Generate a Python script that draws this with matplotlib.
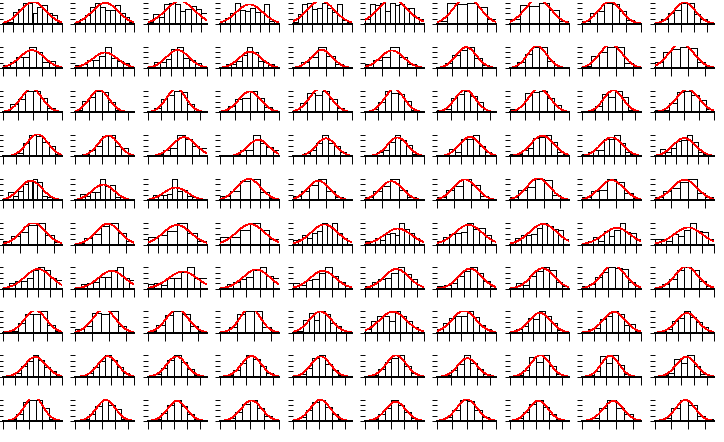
import numpy as np
import matplotlib
matplotlib.use('Agg')
import matplotlib.pyplot as plt
from matplotlib.ticker import MaxNLocator

# relative bar heights of every histogram, one list per row of the grid
row0 = [
    [1, 1, 5.5, 7, 10, 10, 5, 8, 9, 5, 4, 1],
    [1, 2.5, 4, 8, 10, 8, 6.5, 6.5, 9, 5, 3.5, 1],
    [1, 4.5, 3.5, 9.5, 10, 9.5, 6, 7, 8.5, 7, 5],
    [0.7, 3, 5, 10, 6.5, 6, 7.5, 5.5, 5.5, 9.5, 1.5, 0.7],
    [1, 4.5, 9.5, 10, 7, 7.5, 10, 7.5, 5.5, 9.5, 2, 1],
    [2.5, 9.5, 9, 10, 6, 10, 9, 9.5, 7.5, 7.5, 3.5, 2.5],
    [1.5, 10, 9.5, 10, 8, 2.5],
    [2.5, 9, 8.5, 10, 6.5, 1.5],
    [1.3, 5, 6, 10, 9.5, 6, 2, 0.5],
    [0.5, 2.5, 5, 6.5, 10, 10, 4.5, 2.5, 0.5],
]
row1 = [
    [1.3, 3, 5.2, 5, 10, 7.6, 3, 3.3, 0.7],
    [1.5, 2, 3.7, 4, 5.7, 10, 4.8, 3.3, 2.5, 0.7],
    [0.5, 2.8, 2.8, 4.2, 9, 10, 4.8, 3.7, 2.2, 0.7],
    [0.5, 2, 2, 3.4, 6, 10, 7.5, 3.3, 2.8, 2, 0.5],
    [0.5, 2.8, 5, 10, 5.5, 2, 0.7],
    [2, 4, 5, 10, 5, 2, 0.5],
    [0.5, 2.2, 6, 8.5, 10, 4.5, 1.5, 0.5],
    [0.5, 2.8, 6.4, 9.7, 10, 3.3, 0.7, 0.5],
    [1, 5.5, 7.5, 10, 10, 2.5, 1],
    [2.8, 7.5, 9, 10, 9.4, 2.8, 1],
]
row2 = [
    [0.3, 4, 6.3, 10, 10, 6.6, 1.8, 0.3],
    [1, 5.2, 7, 10, 9.5, 4.8, 1, 0.3, 0.3],
    [0.3, 1.8, 6.3, 8.2, 10, 9.5, 4, 0.6, 0.3],
    [0.6, 3, 6.3, 6.6, 10, 6.6, 2.5, 0.3],
    [0.6, 4.3, 9, 8, 10, 6.3, 1.8, 0.3],
    [0.3, 1.3, 4.8, 10, 9, 8.5, 5.2, 1, 0.3],
    [1, 1.5, 6.6, 8.5, 10, 7.5, 4.8, 0.3, 0.3],
    [1.3, 0.7, 9, 9.4, 10, 6.6, 3.3, 0.3],
    [0.3, 1, 3, 8.5, 7, 10, 7, 1, 0.3],
    [1, 1, 4.5, 9.5, 10, 8, 5.8, 1.5],
]
row3 = [
    [0.5, 0.5, 1.5, 6, 10, 9.6, 6.7, 5, 1.3],
    [0.1, 1, 2.8, 5, 9.4, 10, 5, 4, 0.5],
    [0.5, 1, 3, 4, 10, 8.2, 5, 4],
    [0.1, 0.3, 1, 3.1, 3.1, 10, 6, 4.5, 2.8],
    [0.1, 0.7, 1.5, 2.8, 6, 10, 6.4, 5, 2.2, 0.5],
    [0.5, 0.5, 2.2, 3, 6.7, 10, 7.5, 5.2, 1.2, 0.5],
    [0.5, 0.7, 3.3, 2, 8.2, 8.2, 10, 5, 1.8, 0.7],
    [1, 1.3, 3.1, 3.7, 8.5, 9, 10, 6.7, 2.2, 1.3],
    [1, 2, 3.1, 3.1, 8.2, 8.2, 10, 6.3, 2, 1, 0.7],
    [0.5, 3.3, 2.2, 3.7, 7, 7.5, 10, 6.7, 2, 1.3, 0.5],
]
row4 = [
    [1.2, 3.9, 1.9, 4.4, 7.6, 9.6, 10, 8.8, 2.2, 1.8, 1, 0.7],
    [0.7, 2.9, 2.2, 3.7, 3.7, 10, 6.8, 7.4, 1.6, 1.5, 0.7, 0.4],
    [0.7, 2.6, 2.6, 2.6, 2.9, 10, 4.4, 5.1, 2.2, 1.8, 0.7, 0.7],
    [2.2, 4.4, 9, 10, 3.7, 1.3],
    [2.2, 4.4, 7.4, 10, 4.4, 1.6, 0.4],
    [1.8, 4.4, 6.6, 10, 4.7, 1.8, 0.4],
    [1.8, 4.9, 6.6, 10, 7.4, 2.2, 0.7],
    [1.8, 4.9, 6.2, 10, 9.6, 2.6, 0.7],
    [1.8, 4.4, 5.1, 10, 8.4, 3.4, 1.2],
    [1.8, 4.4, 5.9, 8.8, 10, 3.4, 1.8],
]
row5 = [
    [1.5, 4.1, 5.9, 9.3, 10, 4.4, 1.2],
    [0.9, 3.2, 4.9, 8.5, 10, 5.3, 1.8],
    [3.7, 4.4, 6.3, 10, 5.6, 1.8],
    [3.7, 3.7, 7, 10, 6.7, 2.4],
    [1.9, 2.6, 4.4, 3.2, 5.6, 6.2, 10, 8.8, 10, 5.6, 2.9, 1.8],
    [1.8, 1.8, 3.2, 1.9, 4.9, 5.3, 4.4, 10, 7.4, 5.6, 3.2, 1.8],
    [1.8, 3.7, 4.9, 5.3, 5.9, 10, 7.4, 7.6, 4.4, 1.8],
    [1.2, 3.2, 4.4, 4.4, 4.9, 7.6, 10, 8.8, 7.4, 6.7, 2.6],
    [0.9, 1.8, 3.7, 1.5, 6.3, 4.1, 6.7, 10, 5.9, 5.3, 2.4],
    [2.4, 2.4, 1.8, 4.9, 4.1, 7, 10, 6.3, 5.9, 2.4],
]
row6 = [
    [0.7, 2.5, 3.4, 3.4, 4.9, 8.5, 10, 8.5, 4.9, 4],
    [0.4, 2.2, 2.7, 3, 5.2, 5.2, 8.5, 10, 4.8, 4],
    [2.2, 2.5, 1.8, 4.8, 4.8, 7.9, 10, 4.8, 4.8],
    [0.7, 2.2, 3, 4.5, 5.2, 8.5, 10, 6, 4.8],
    [2.5, 1.8, 4, 4.5, 7.5, 10, 6, 3, 0.4],
    [1, 3, 4.5, 4.9, 7.5, 10, 7, 4.5, 0.4],
    [1, 1.5, 2.5, 5.7, 8.2, 10, 7.5, 3.4, 1.2],
    [0.7, 2.5, 1.8, 5.7, 8.2, 10, 8.5, 3, 1.2],
    [1, 2.2, 5.2, 7.9, 10, 9.7, 9, 3, 1],
    [0.7, 2.2, 4.5, 8.5, 10, 8.5, 3.4, 1.2],
]
row7 = [
    [0.9, 0.9, 4.4, 8.8, 8.8, 10, 3.4, 0.9],
    [1.8, 3.2, 9.3, 8.8, 10, 3.2, 0.4],
    [0.9, 3.5, 8.5, 10, 8.8, 3.2, 0.9],
    [0.4, 2.6, 8.8, 10, 10, 2.6, 0.7],
    [0.9, 0.9, 5.9, 9.3, 5.9, 10, 8.8, 4.4, 3.2, 1.2, 0.4],
    [1.8, 5.3, 7.8, 7.8, 5.3, 10, 7.8, 5.6, 2.6, 1.2],
    [1.8, 4.4, 7, 8, 8, 10, 7.2, 3.5, 1.5, 0.4],
    [0.7, 1.5, 3.2, 6.8, 6.3, 10, 7.8, 4.4, 1.2, 0.4],
    [0.4, 1.5, 2.4, 6.3, 7.8, 10, 8.8, 3.7, 4.1, 0.7],
    [0.4, 0.7, 1.9, 5.3, 7, 10, 7.4, 4.9, 2.6, 0.7],
]
row8 = [
    [0.6, 0.6, 2, 5, 7.3, 10, 8, 4.5, 2.8, 0.6],
    [0.1, 0.6, 2, 4.8, 7.5, 10, 7.8, 4.8, 2, 0.6],
    [0.5, 1.5, 4, 8, 10, 7, 3.5, 1, 0.3],
    [0.3, 1, 3, 6.5, 10, 8.5, 5, 2, 0.5],
    [0.5, 1.5, 4, 9, 10, 6, 3, 1, 0.3],
    [0.3, 1, 3.5, 7, 9, 10, 5, 2, 0.5],
    [0.3, 1, 3, 6, 10, 6.5, 3.5, 1.2, 0.3],
    [0.3, 1, 3, 9.5, 7, 10, 5, 1.5, 0.3],
    [0.3, 1, 2.5, 9.7, 6.6, 10, 5.5, 1.5, 0.3, 0.1],
    [0.2, 1, 2, 8.5, 6.6, 10, 5.1, 1.3, 1],
]
row9 = [
    [0.3, 0.7, 3, 9, 10, 9.7, 6, 1, 0.3],
    [0.3, 1, 3, 7, 10, 7.5, 5.5, 0.7, 0.3],
    [0.3, 1, 3.5, 7.5, 10, 7, 3, 1, 0.3],
    [0.3, 1.5, 4, 8, 10, 6, 2.5, 0.7],
    [0.5, 2, 5, 9, 10, 6.5, 3, 1, 0.3],
    [0.3, 1, 3, 6, 10, 7.5, 4, 1.5, 0.5],
    [0.5, 2, 5, 10, 9.5, 5, 2, 0.5],
    [0.3, 1.5, 4, 8, 10, 6.5, 3, 1, 0.3],
    [0.3, 1.5, 6, 10, 6, 3.4, 0.7],
    [0.3, 1.5, 6, 10, 7.5, 2.2, 0.7],
]
rows = [row0, row1, row2, row3, row4, row5, row6, row7, row8, row9]

plt.rcParams['lines.antialiased'] = False
plt.rcParams['patch.antialiased'] = False

W, H = 724, 442
fig = plt.figure(figsize=(W / 100, H / 100), dpi=100)

for r, row in enumerate(rows):
    for c, heights in enumerate(row):
        h = np.array(heights, dtype=float)
        n = len(h)
        left = 3 + 72.4 * c
        top = 2 + 44.1 * r
        ax = fig.add_axes([left / W, 1 - (top + 22) / H, 59 / W, 22 / H])

        edges = np.arange(n + 1)
        ax.bar(edges[:-1], h, width=1, align='edge', facecolor='white',
               edgecolor='black', linewidth=0.65)

        # normal curve fitted to the histogram
        mids = edges[:-1] + 0.5
        mu = (h * mids).sum() / h.sum()
        sd = np.sqrt((h * (mids - mu) ** 2).sum() / h.sum())
        xs = np.linspace(0, n, 200)
        ys = h.sum() * np.exp(-0.5 * ((xs - mu) / sd) ** 2) / (sd * np.sqrt(2 * np.pi))
        ax.plot(xs, ys, color='red', lw=0.5)

        ax.set_xlim(0, n)
        ax.set_ylim(0, h.max() * 1.03)
        for s in ['top', 'right', 'left']:
            ax.spines[s].set_visible(False)
        ax.spines['bottom'].set_linewidth(1.4)
        ax.xaxis.set_major_locator(MaxNLocator(nbins=6, steps=[1, 2, 2.5, 5, 10]))
        ax.yaxis.set_major_locator(MaxNLocator(nbins=5))
        ax.tick_params(axis='x', length=5.5, width=0.7, direction='out',
                       labelbottom=False)
        ax.tick_params(axis='y', length=3.8, width=0.7, direction='out',
                       labelleft=False)

fig.savefig('out.png', dpi=100)
